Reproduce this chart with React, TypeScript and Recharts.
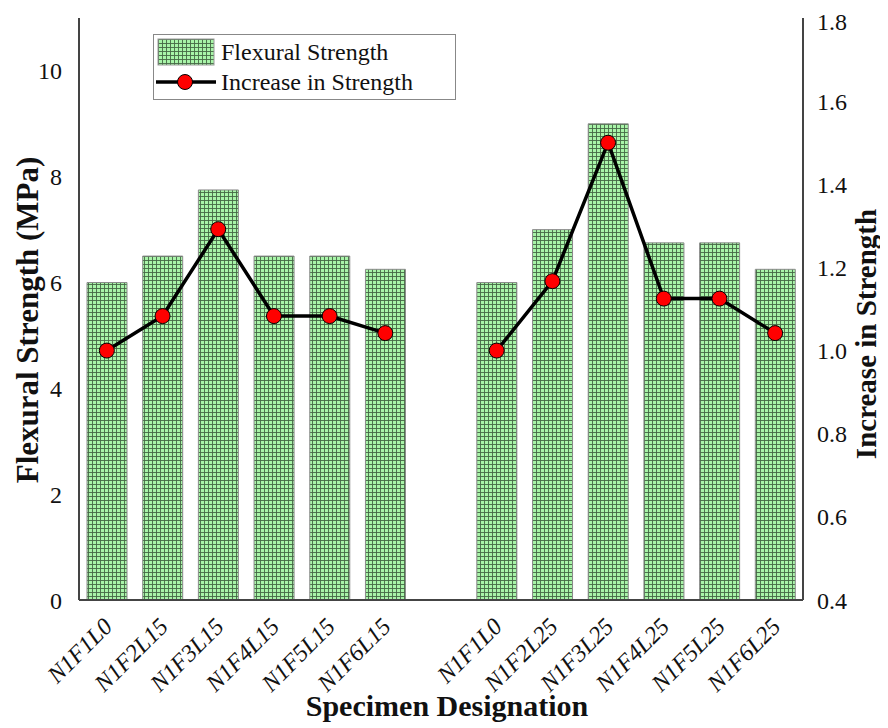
import { ComposedChart, Bar, Line, XAxis, YAxis, Legend } from 'recharts';

const specimens = [
  'N1F1L0', 'N1F2L15', 'N1F3L15', 'N1F4L15', 'N1F5L15', 'N1F6L15',
  '',
  'N1F1L0', 'N1F2L25', 'N1F3L25', 'N1F4L25', 'N1F5L25', 'N1F6L25',
];
const flexuralStrength = [6.0, 6.5, 7.75, 6.5, 6.5, 6.25, null, 6.0, 7.0, 9.0, 6.75, 6.75, 6.25];
const strengthIncrease = [1.0, 1.083, 1.292, 1.083, 1.083, 1.042, null, 1.0, 1.167, 1.5, 1.125, 1.125, 1.042];
const leftTicks = [0, 2, 4, 6, 8, 10];
const rightTicks = [0.4, 0.6, 0.8, 1.0, 1.2, 1.4, 1.6, 1.8];

const data = specimens.map((name, i) => ({
  name,
  strength: flexuralStrength[i],
  increase: strengthIncrease[i],
}));

const FONT = '"Liberation Serif", "Times New Roman", serif';
const AXIS = '#444';

const LeftTitle = (props: any) => {
  const { x, y, height } = props.viewBox;
  const cx = x + 19;
  const cy = y + height / 2 + 11;
  return (
    <text x={cx} y={cy} transform={`rotate(-90, ${cx}, ${cy})`} textAnchor="middle"
      dominantBaseline="central" fontFamily={FONT} fontWeight="bold" fontSize={31} fill="#111">
      Flexural Strength (MPa)
    </text>
  );
};

const RightTitle = (props: any) => {
  const { x, y, height } = props.viewBox;
  const cx = x + 63;
  const cy = y + height / 2 + 25;
  return (
    <text x={cx} y={cy} transform={`rotate(-90, ${cx}, ${cy})`} textAnchor="middle"
      dominantBaseline="central" fontFamily={FONT} fontWeight="bold" fontSize={29} fill="#111">
      Increase in Strength
    </text>
  );
};

const BottomTitle = (props: any) => {
  const { x, y, width } = props.viewBox;
  return (
    <text x={x + width / 2 + 6} y={y + 116} textAnchor="middle" fontFamily={FONT}
      fontWeight="bold" fontSize={30} fill="#111">
      Specimen Designation
    </text>
  );
};

const XTick = (props: any) => {
  const { x, y, payload } = props;
  return (
    <g transform={`translate(${x - 3},${y + 10})`}>
      <text x={0} y={0} dy={14} textAnchor="end" transform="rotate(-45)" fontFamily={FONT}
        fontStyle="italic" fontSize={24} fill="#111">
        {payload.value}
      </text>
    </g>
  );
};

const LegendBox = () => (
  <div style={{ width: 303, height: 66, border: '1.5px solid #888', background: '#fff',
    boxSizing: 'border-box', fontFamily: FONT, fontSize: 24, color: '#111' }}>
    <svg width={300} height={63} style={{ display: 'block' }}>
      <rect x={4} y={4} width={56} height={26} fill="url(#gridFill)" stroke="#999" strokeWidth={1} />
      <text x={67} y={25} fontFamily={FONT} fontSize={24} fill="#111">Flexural Strength</text>
      <line x1={2} y1={47} x2={62} y2={47} stroke="#000" strokeWidth={3.5} />
      <circle cx={31} cy={47} r={7.5} fill="#f00" stroke="#000" strokeWidth={1} />
      <text x={67} y={55} fontFamily={FONT} fontSize={24} fill="#111">Increase in Strength</text>
    </svg>
  </div>
);

export default function App() {
  return (
    <div style={{ position: 'relative', width: 880, height: 720 }}>
      <svg width={0} height={0} style={{ position: 'absolute' }}>
        <defs>
          <pattern id="gridFill" width={4} height={4} patternUnits="userSpaceOnUse">
            <rect width={4} height={4} fill="#a8f4a8" />
            <path d="M0 0.5 H4 M0.5 0 V4" stroke="#456845" strokeWidth={0.9} />
          </pattern>
        </defs>
      </svg>
      <ComposedChart width={880} height={720} data={data}
        margin={{ top: 10, right: 0, bottom: 0, left: 0 }}>
        <XAxis dataKey="name" xAxisId="main" height={128} interval={0} tickLine={false}
          axisLine={{ stroke: AXIS, strokeWidth: 2 }} tick={<XTick />} tickMargin={2}
          label={<BottomTitle />} />
        <XAxis dataKey="name" xAxisId="top" orientation="top" height={0} tick={false}
          tickLine={false} axisLine={{ stroke: AXIS, strokeWidth: 2 }} />
        <YAxis yAxisId="left" width={71} domain={[0, 11]} ticks={leftTicks} tickLine={false}
          axisLine={{ stroke: AXIS, strokeWidth: 2 }} tickMargin={11}
          tick={{ fontFamily: FONT, fontSize: 24, fill: '#111' }} label={<LeftTitle />} />
        <YAxis yAxisId="right" orientation="right" width={85} domain={[0.4, 1.8]}
          ticks={rightTicks} tickLine={false} axisLine={{ stroke: AXIS, strokeWidth: 2 }}
          tickMargin={8} tickFormatter={(v: number) => v.toFixed(1)}
          tick={{ fontFamily: FONT, fontSize: 24, fill: '#111' }} label={<RightTitle />} />
        <Legend content={<LegendBox />} layout="horizontal" verticalAlign="middle" align="center"
          wrapperStyle={{ position: 'absolute', left: 145, top: 26, width: 303, height: 66 }} />
        <Bar dataKey="strength" xAxisId="main" yAxisId="left" barSize={40} fill="url(#gridFill)"
          stroke="#8a8a8a" strokeWidth={1} isAnimationActive={false} name="Flexural Strength" />
        <Line dataKey="increase" xAxisId="main" yAxisId="right" stroke="#000" strokeWidth={3.5}
          dot={{ r: 7.5, fill: '#f00', stroke: '#000', strokeWidth: 1 }} connectNulls={false}
          isAnimationActive={false} name="Increase in Strength" />
      </ComposedChart>
    </div>
  );
}
